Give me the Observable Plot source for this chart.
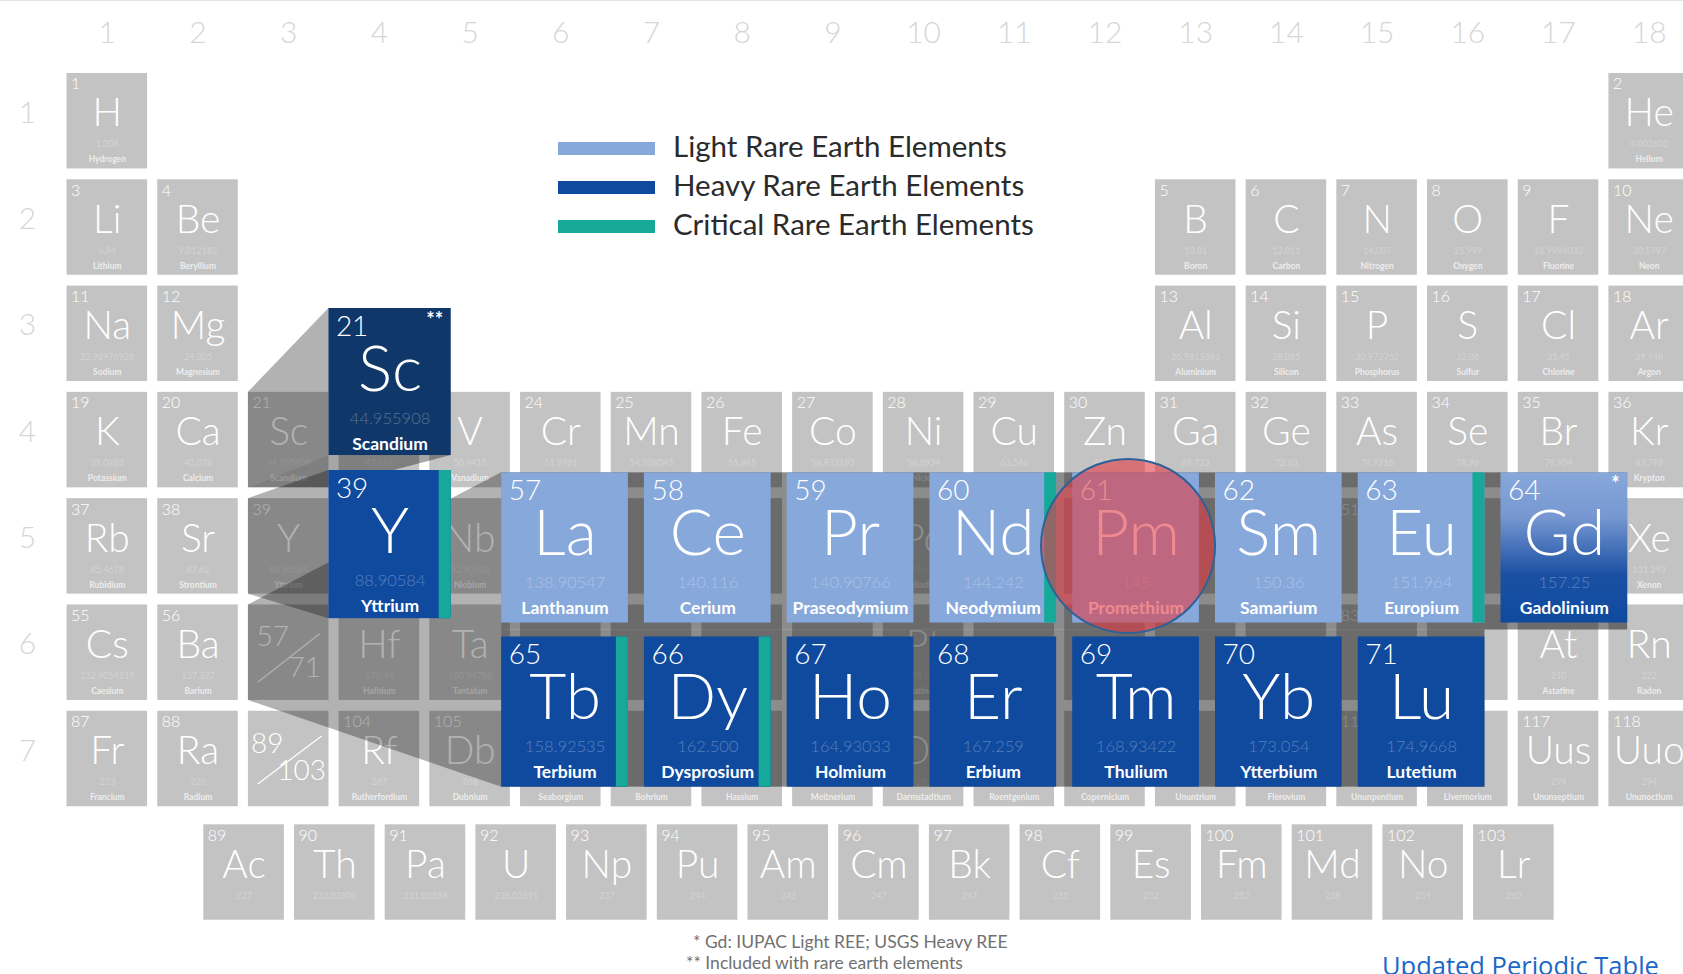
<!DOCTYPE html>
<html lang="en">
<head>
<meta charset="utf-8">
<title>Rare Earth Elements in the Periodic Table</title>
<script src="https://cdn.jsdelivr.net/npm/d3@7"></script>
<script src="https://cdn.jsdelivr.net/npm/@observablehq/plot@0.6"></script>
<style>
html,body{margin:0;padding:0;background:#fff;}
#wrap{position:relative;width:1683px;height:974px;overflow:hidden;background:#fff;}
#chart{position:absolute;left:0;top:0;}
#topline{position:absolute;left:0;top:0;width:1683px;height:1px;background:#e4e4e4;}
#legend{position:absolute;left:0;top:0;font-family:Lato,"Open Sans",sans-serif;}
.lg-row{position:absolute;height:40px;display:flex;align-items:center;white-space:nowrap;}
.lg-bar{width:97px;height:13px;margin-right:18px;}
.lg-label{font-size:29.5px;color:#2b2b2b;position:relative;top:-3px;}
.note{position:absolute;font-family:Lato,"Open Sans",sans-serif;font-size:17.5px;color:#707070;line-height:21px;white-space:nowrap;}
#link{position:absolute;left:1382px;top:950px;font-family:"Open Sans",sans-serif;font-size:25.5px;line-height:30px;color:#1a68c7;white-space:nowrap;}
</style>
</head>
<body>
<div id="wrap">
  <div id="chart"></div>
  <div id="topline"></div>
  <div id="legend"></div>
  <div id="notes"></div>
  <div id="link"></div>
</div>
<script>
// ---------------- DATA ----------------
const symbols = ["H","He","Li","Be","B","C","N","O","F","Ne","Na","Mg","Al","Si","P","S","Cl","Ar","K","Ca","Sc","Ti","V","Cr","Mn","Fe","Co","Ni","Cu","Zn","Ga","Ge","As","Se","Br","Kr","Rb","Sr","Y","Zr","Nb","Mo","Tc","Ru","Rh","Pd","Ag","Cd","In","Sn","Sb","Te","I","Xe","Cs","Ba","La","Ce","Pr","Nd","Pm","Sm","Eu","Gd","Tb","Dy","Ho","Er","Tm","Yb","Lu","Hf","Ta","W","Re","Os","Ir","Pt","Au","Hg","Tl","Pb","Bi","Po","At","Rn","Fr","Ra","Ac","Th","Pa","U","Np","Pu","Am","Cm","Bk","Cf","Es","Fm","Md","No","Lr","Rf","Db","Sg","Bh","Hs","Mt","Ds","Rg","Cn","Uut","Fl","Uup","Lv","Uus","Uuo"];
const names = ["Hydrogen","Helium","Lithium","Beryllium","Boron","Carbon","Nitrogen","Oxygen","Fluorine","Neon","Sodium","Magnesium","Aluminium","Silicon","Phosphorus","Sulfur","Chlorine","Argon","Potassium","Calcium","Scandium","Titanium","Vanadium","Chromium","Manganese","Iron","Cobalt","Nickel","Copper","Zinc","Gallium","Germanium","Arsenic","Selenium","Bromine","Krypton","Rubidium","Strontium","Yttrium","Zirconium","Niobium","Molybdenum","Technetium","Ruthenium","Rhodium","Palladium","Silver","Cadmium","Indium","Tin","Antimony","Tellurium","Iodine","Xenon","Caesium","Barium","Lanthanum","Cerium","Praseodymium","Neodymium","Promethium","Samarium","Europium","Gadolinium","Terbium","Dysprosium","Holmium","Erbium","Thulium","Ytterbium","Lutetium","Hafnium","Tantalum","Tungsten","Rhenium","Osmium","Iridium","Platinum","Gold","Mercury","Thallium","Lead","Bismuth","Polonium","Astatine","Radon","Francium","Radium","Actinium","Thorium","Protactinium","Uranium","Neptunium","Plutonium","Americium","Curium","Berkelium","Californium","Einsteinium","Fermium","Mendelevium","Nobelium","Lawrencium","Rutherfordium","Dubnium","Seaborgium","Bohrium","Hassium","Meitnerium","Darmstadtium","Roentgenium","Copernicium","Ununtrium","Flerovium","Ununpentium","Livermorium","Ununseptium","Ununoctium"];
const weights = ["1.008","4.002602","6.94","9.012182","10.81","12.011","14.007","15.999","18.9984032","20.1797","22.98976928","24.305","26.9815386","28.085","30.973762","32.06","35.45","39.948","39.0983","40.078","44.955908","47.867","50.9415","51.9961","54.938045","55.845","58.933195","58.6934","63.546","65.38","69.723","72.63","74.9216","78.96","79.904","83.798","85.4678","87.62","88.90584","91.224","92.90638","95.96","98","101.07","102.9055","106.42","107.8682","112.411","114.818","118.71","121.76","127.6","126.90447","131.293","132.9054519","137.327","138.90547","140.116","140.90766","144.242","145","150.36","151.964","157.25","158.92535","162.500","164.93033","167.259","168.93422","173.054","174.9668","178.49","180.94788","183.84","186.207","190.23","192.217","195.084","196.966569","200.59","204.38","207.2","208.9804","209","210","222","223","226","227","232.03806","231.03588","238.02891","237","244","243","247","247","251","252","257","258","259","262","267","268","271","272","270","276","281","280","285","284","289","288","293","294","294"];
const groupLabels = [1,2,3,4,5,6,7,8,9,10,11,12,13,14,15,16,17,18];
const periodLabels = [1,2,3,4,5,6,7];
const seriesPlaceholders = [["57","71"],["89","103"]];
const reeSymbols = ["Sc","Y","La","Ce","Pr","Nd","Pm","Sm","Eu","Gd","Tb","Dy","Ho","Er","Tm","Yb","Lu"];
const reeCategory = ["Included","Heavy","Light","Light","Light","Light","Light","Light","Light","Light/Heavy","Heavy","Heavy","Heavy","Heavy","Heavy","Heavy","Heavy"];
const reeMarks = ["**","","","","","","","","","*","","","","","","",""];
const criticalREE = ["Y","Nd","Eu","Tb","Dy"];
const highlightedElement = "Pm";
const legendLabels = ["Light Rare Earth Elements","Heavy Rare Earth Elements","Critical Rare Earth Elements"];
const legendColors = ["#87a8db","#0f4a9f","#16a898"];
const footnotes = ["* Gd: IUPAC Light REE; USGS Heavy REE","** Included with rare earth elements"];
const linkText = "Updated Periodic Table";

// ---------------- STYLE / LAYOUT ----------------
const FONT = "Lato, 'Open Sans', 'DejaVu Sans', sans-serif";
const COL = {Light: "#87a8db", Heavy: "#0f4a9f", Included: "#0f376a", teal: "#16a898", grey: "#c3c3c3"};
const X0 = 106.8, DX = 90.7, Y0 = 120.7, DY = 106.3;     // grid: group/period -> px
const HW = 0.444, HH = 0.449;                              // half cell size (grid units)
const HEADER_Y = 1 + (33 - Y0) / DY;
const PERIOD_X = 1 + (27 - X0) / DX;
const ACT_X0 = 2.508, ACT_Y = 8.068;
const CARD_L0 = 5.348, CARD_P = 1.574, CARD_W = 1.397, CARD_H = 1.413, CARD_T = [4.308, 5.852];
const SC_CARD = {x1: 3.443, y1: 2.762, w: 1.349, h: 1.383};
const Y_CARD = {x1: 3.443, y1: 4.286, w: 1.349, h: 1.394};
const STRIPE = 12 / DX;

function place(z) {
  if (z === 1) return [1, 1];
  if (z === 2) return [18, 1];
  if (z <= 4) return [z - 2, 2];
  if (z <= 10) return [z + 8, 2];
  if (z <= 12) return [z - 10, 3];
  if (z <= 18) return [z, 3];
  if (z <= 36) return [z - 18, 4];
  if (z <= 54) return [z - 36, 5];
  if (z <= 56) return [z - 54, 6];
  if (z <= 86) return [z - 68, 6];
  if (z <= 88) return [z - 86, 7];
  return [z - 100, 7];
}
const isLan = z => z >= 57 && z <= 71, isAct = z => z >= 89 && z <= 103;
const atomic = symbols.map((s, i) => i + 1);

const mainCells = atomic.filter(z => !isLan(z) && !isAct(z)).map(z => {
  const [g, p] = place(z);
  return {z, sym: symbols[z-1], name: names[z-1], wt: weights[z-1], gx: g, py: p};
});
const actCells = atomic.filter(isAct).map((z, i) => ({z, sym: symbols[z-1], wt: weights[z-1], gx: ACT_X0 + i, py: ACT_Y}));
const phLayout = [
  {a: [-16, -15.5], b: [16, 15.5], l: [-31, 29.5, 31, -19]},
  {a: [-21.5, -14.5], b: [13, 12], l: [-31, 25, 33, -23]}
];
const phCells = seriesPlaceholders.map((r, i) => ({a: r[0], b: r[1], gx: 3, py: 6 + i, lay: phLayout[i]}));
const greyCells = [...mainCells, ...actCells, ...phCells];

const cards = reeSymbols.map((s, i) => {
  const z = symbols.indexOf(s) + 1;
  let box;
  if (s === "Sc") box = SC_CARD;
  else if (s === "Y") box = Y_CARD;
  else {
    const k = z - 57, row = k < 8 ? 0 : 1, col = k < 8 ? k : k - 8;
    box = {x1: CARD_L0 + col * CARD_P, y1: CARD_T[row], w: CARD_W, h: CARD_H};
  }
  return {z, sym: s, name: names[z-1], wt: weights[z-1], cat: reeCategory[i], mark: reeMarks[i],
    critical: criticalREE.includes(s), x1: box.x1, x2: box.x1 + box.w, y1: box.y1, y2: box.y1 + box.h,
    cx: box.x1 + box.w / 2, cy: box.y1 + box.h / 2};
});
const byS = Object.fromEntries(cards.map(c => [c.sym, c]));
const cellBox = (g, p) => ({x1: g - HW, x2: g + HW, y1: p - HH, y2: p + HH});

// texts of the grey table that are hidden under a card are not drawn
const visible = (data, xOf, dyPx) => data.filter(d => {
  const tx = xOf(d), ty = d.py - HH + dyPx / DY;
  return !cards.some(c => tx > c.x1 - 0.05 && tx < c.x2 + 0.05 && ty > c.y1 - 0.02 && ty < c.y2 + 0.02);
});
const labelled = [...mainCells, ...actCells];
const numTexts = visible(labelled, d => d.gx - HW + 10 / DX, 10);
const symTexts = visible(labelled, d => d.gx, 40);
const wtTexts = visible(labelled, d => d.gx, 72);
const nameTexts = visible(mainCells, d => d.gx, 87);

// projection faces (3D extrusion)
const faces = [];
function face(id, a, b) {
  faces.push({id, x: a.x1, y1: a.y1, y2: a.y2}, {id, x: b.x1, y1: b.y1, y2: b.y2});
}
face("sc", cellBox(3, 4), byS.Sc);
face("y", cellBox(3, 5), byS.Y);
face("lan", cellBox(3, 6), {x1: byS.La.x1, y1: byS.La.y1, y2: byS.Lu.y2});
const scCell = cellBox(3, 4);
const scBottom = [
  {y: byS.Sc.y2, x1: byS.Sc.x1, x2: byS.Sc.x2},
  {y: scCell.y2, x1: scCell.x1, x2: scCell.x2}
];
const gap = (byS.Tb.y1 - byS.La.y2);
const shadows = [
  {x1: byS.La.x1, x2: byS.Gd.x2, y1: byS.La.y1, y2: byS.La.y2 + gap / 2},
  {x1: byS.Tb.x1, x2: byS.Lu.x2, y1: byS.Tb.y1 - gap / 2, y2: byS.Lu.y2}
];

const T = (data, o) => Plot.text(data, {fontFamily: FONT, lineAnchor: "bottom", ...o});

const svg = Plot.plot({
  width: 1683, height: 974, margin: 0,
  x: {domain: [1, 18], range: [X0, X0 + 17 * DX], axis: null},
  y: {domain: [1, 7], range: [Y0, Y0 + 6 * DY], axis: null},
  style: {background: "transparent", overflow: "hidden"},
  marks: [
    // axis-like labels
    T(groupLabels, {x: d => d, y: () => HEADER_Y, text: d => String(d), lineAnchor: "middle", fontSize: 30, fontWeight: 300, fill: "#d6d6d6"}),
    T(periodLabels, {x: () => PERIOD_X, y: d => d - 0.075, text: d => String(d), lineAnchor: "middle", fontSize: 30, fontWeight: 300, fill: "#d6d6d6"}),
    // grey table
    Plot.rect(greyCells, {x1: d => d.gx - HW, x2: d => d.gx + HW, y1: d => d.py - HH, y2: d => d.py + HH, fill: COL.grey}),
    T(numTexts, {x: d => d.gx - HW, y: d => d.py - HH, text: d => String(d.z), dx: 4, dy: 16, textAnchor: "start", fontSize: 16, fontWeight: 300, fill: "white"}),
    T(symTexts, {x: "gx", y: d => d.py - HH, text: "sym", dy: 53, fontSize: 39, fontWeight: 300, fill: "white"}),
    T(wtTexts, {x: "gx", y: d => d.py - HH, text: "wt", dy: 74, fontSize: 9, fill: "#d3d3d3"}),
    T(nameTexts, {x: "gx", y: d => d.py - HH, text: "name", dy: 89, fontSize: 8.5, fontWeight: 700, fill: "#ededed"}),
    T(phCells, {x: d => d.gx + d.lay.a[0] / DX, y: d => d.py + d.lay.a[1] / DY, text: "a", lineAnchor: "middle", fontSize: 28, fontWeight: 300, fill: "white"}),
    T(phCells, {x: d => d.gx + d.lay.b[0] / DX, y: d => d.py + d.lay.b[1] / DY, text: "b", lineAnchor: "middle", fontSize: 28, fontWeight: 300, fill: "white"}),
    Plot.link(phCells, {x1: d => d.gx + d.lay.l[0] / DX, y1: d => d.py + d.lay.l[1] / DY, x2: d => d.gx + d.lay.l[2] / DX, y2: d => d.py + d.lay.l[3] / DY, stroke: "white", strokeWidth: 1.3}),
    // shading / extrusion
    Plot.areaY(faces, {x: "x", y1: "y1", y2: "y2", z: "id", fill: "black", fillOpacity: 0.3, curve: "linear"}),
    Plot.areaX(scBottom, {y: "y", x1: "x1", x2: "x2", fill: "black", fillOpacity: 0.35, curve: "linear"}),
    Plot.rect(shadows, {x1: "x1", x2: "x2", y1: "y1", y2: "y2", fill: "black", fillOpacity: 0.45}),
    // cards
    Plot.rect(cards.filter(d => d.cat === "Light"), {x1: "x1", x2: "x2", y1: "y1", y2: "y2", fill: COL.Light}),
    Plot.rect(cards.filter(d => d.cat === "Heavy"), {x1: "x1", x2: "x2", y1: "y1", y2: "y2", fill: COL.Heavy}),
    Plot.rect(cards.filter(d => d.cat === "Included"), {x1: "x1", x2: "x2", y1: "y1", y2: "y2", fill: COL.Included}),
    Plot.rect(cards.filter(d => d.cat === "Light/Heavy"), {x1: "x1", x2: "x2", y1: "y1", y2: "y2", fill: "url(#gdGrad)"}),
    Plot.rect(cards.filter(d => d.critical), {x1: d => d.x2 - STRIPE, x2: "x2", y1: "y1", y2: "y2", fill: COL.teal}),
    T(cards, {x: "x1", y: "y1", text: d => String(d.z), dx: 7, dy: 27, textAnchor: "start", fontSize: 28, fontWeight: 300, fill: "white"}),
    T(cards, {x: "cx", y: "y1", text: "sym", dy: 82, fontSize: 64, fontWeight: 300, fill: "white"}),
    T(cards, {x: "cx", y: "y1", text: "wt", dy: 115, fontSize: 16.5, fontWeight: 300, fill: "white", fillOpacity: 0.3}),
    T(cards, {x: "cx", y: "y1", text: "name", dy: 141, fontSize: 17.5, fontWeight: 700, fill: "white"}),
    T(cards.filter(d => d.mark), {x: "x2", y: "y1", text: "mark", dx: -8, dy: 4, textAnchor: "end", lineAnchor: "top", fontSize: 20, fontWeight: 700, fill: "white"}),
    // highlight
    Plot.dot(cards.filter(d => d.sym === highlightedElement), {x: "cx", y: "cy", dx: -8, dy: -2, r: 87, fill: "#e23c45", fillOpacity: 0.6, stroke: "#2e6198", strokeWidth: 2})
  ]
});

const defs = document.createElementNS("http://www.w3.org/2000/svg", "defs");
defs.innerHTML = '<linearGradient id="gdGrad" x1="0" y1="0" x2="0" y2="1">' +
  '<stop offset="0" stop-color="#88a8db"/><stop offset="0.3" stop-color="#7697d1"/>' +
  '<stop offset="0.68" stop-color="#1a50a3"/><stop offset="1" stop-color="#0f4a9f"/></linearGradient>';
svg.insertBefore(defs, svg.firstChild);
document.getElementById("chart").appendChild(svg);

// legend
const legend = document.getElementById("legend");
legendLabels.forEach((lab, i) => {
  const row = document.createElement("div");
  row.className = "lg-row";
  row.style.left = "558px";
  row.style.top = (128 + i * 39.2) + "px";
  const bar = document.createElement("div");
  bar.className = "lg-bar";
  bar.style.background = legendColors[i];
  const t = document.createElement("span");
  t.className = "lg-label";
  t.textContent = lab;
  row.appendChild(bar); row.appendChild(t);
  legend.appendChild(row);
});
// footnotes
const notes = document.getElementById("notes");
footnotes.forEach((txt, i) => {
  const n = document.createElement("div");
  n.className = "note";
  n.style.left = (i === 0 ? 693 : 686) + "px";
  n.style.top = (931 + i * 21) + "px";
  n.textContent = txt;
  notes.appendChild(n);
});
document.getElementById("link").textContent = linkText;
</script>
</body>
</html>
